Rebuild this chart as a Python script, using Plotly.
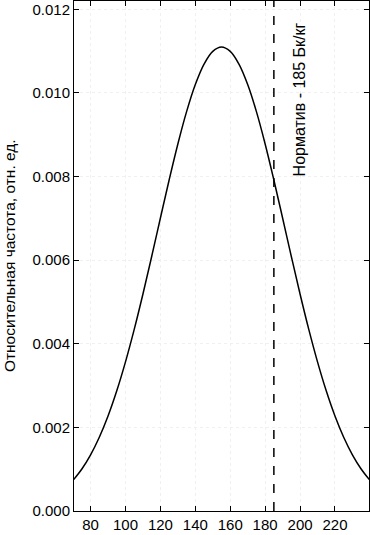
import plotly.graph_objects as go

x_vals = [70, 75, 80, 85, 90, 95, 100, 105, 110, 115, 120, 125, 130, 135, 140, 145, 150, 155,
          160, 165, 170, 175, 180, 185, 190, 195, 200, 205, 210, 215, 220, 225, 230, 235, 240]
freq = [0.000737, 0.001005, 0.001344, 0.001765, 0.002273, 0.002875, 0.003567, 0.004344,
        0.005191, 0.006089, 0.007009, 0.007918, 0.008780, 0.009553, 0.010201, 0.010691,
        0.010996, 0.011100, 0.010996, 0.010691, 0.010201, 0.009553, 0.008780, 0.007918,
        0.007009, 0.006089, 0.005191, 0.004344, 0.003567, 0.002875, 0.002273, 0.001765,
        0.001344, 0.001005, 0.000737]
norm_x = 185
x_ticks = [80, 100, 120, 140, 160, 180, 200, 220]
y_ticks = [0.000, 0.002, 0.004, 0.006, 0.008, 0.010, 0.012]
y_title = "Относительная частота, отн. ед."
norm_label = "Норматив - 185 Бк/кг"

FONT = "Liberation Sans, Arial, sans-serif"

fig = go.Figure()
fig.add_trace(go.Scatter(x=x_vals, y=freq, mode="lines",
                         line=dict(color="black", width=1.5, shape="spline"),
                         showlegend=False, hoverinfo="skip"))

fig.add_shape(type="line", xref="x", yref="paper", x0=norm_x, x1=norm_x, y0=0, y1=1,
              line=dict(color="black", width=1.5, dash="dash"))

fig.add_annotation(x=norm_x + 14.5, y=0.00985, xref="x", yref="y", text=norm_label,
                   textangle=-90, showarrow=False,
                   font=dict(family=FONT, size=16, color="black"))

fig.add_annotation(x=-0.22, y=0.5, xref="paper", yref="paper", text=y_title,
                   textangle=-90, showarrow=False, xanchor="center", yanchor="middle",
                   font=dict(family=FONT, size=15.5, color="black"))

axis_common = dict(showline=True, linecolor="black", linewidth=1, mirror="ticks",
                   ticks="inside", ticklen=5, tickcolor="black",
                   showgrid=True, gridcolor="#f0f0f0", griddash="dot", gridwidth=1,
                   zeroline=False, tickfont=dict(family=FONT, size=15, color="black"))

fig.update_layout(
    width=370, height=535,
    margin=dict(l=74, r=1, t=1, b=24),
    paper_bgcolor="white", plot_bgcolor="white",
    xaxis=dict(range=[70.5, 239.5], tickvals=x_ticks, **axis_common),
    yaxis=dict(range=[0, 0.0122], tickvals=y_ticks, tickformat=".3f", **axis_common),
)

fig.write_html("out.html", config={"displayModeBar": False},
               post_script="document.body.style.margin='0';document.body.style.overflow='hidden';document.documentElement.style.overflow='hidden';")
